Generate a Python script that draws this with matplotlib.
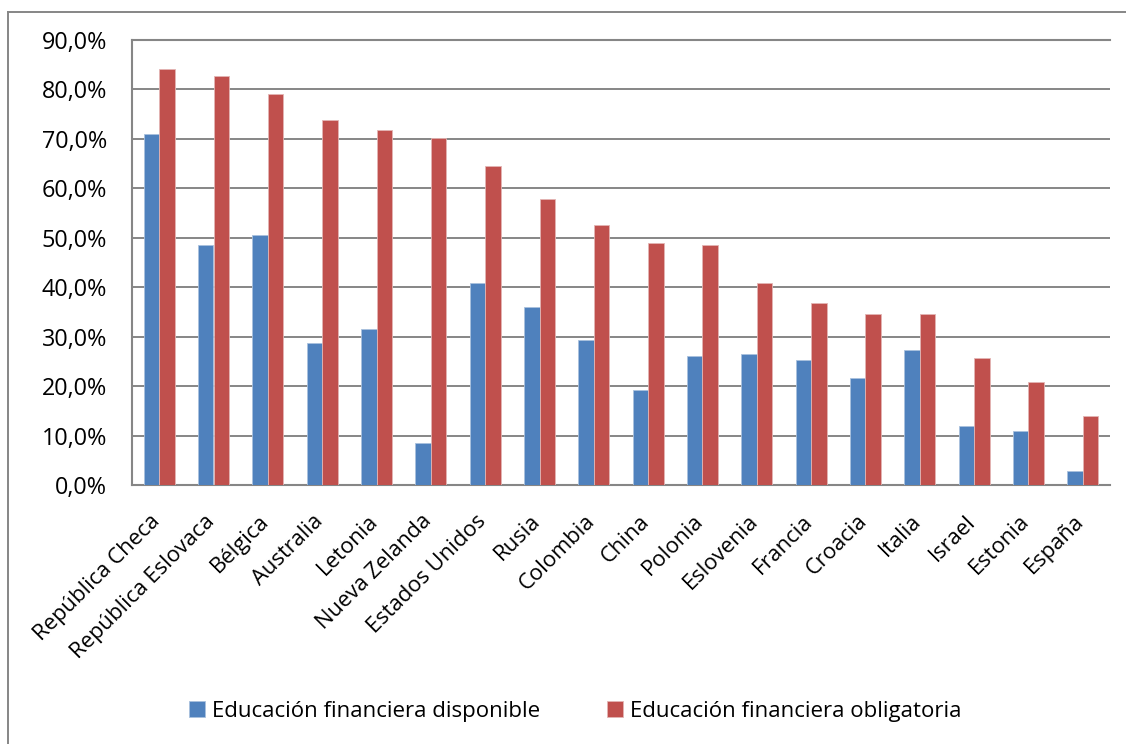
import numpy as np
import matplotlib
matplotlib.use("Agg")
import matplotlib.pyplot as plt
import matplotlib.transforms as mtransforms
from matplotlib.lines import Line2D

# ── data ─────────────────────────────────────────────────────────────────────

paises = [
    "República Checa", "República Eslovaca", "Bélgica", "Australia",
    "Letonia", "Nueva Zelanda", "Estados Unidos", "Rusia", "Colombia",
    "China", "Polonia", "Eslovenia", "Francia", "Croacia", "Italia",
    "Israel", "Estonia", "España",
]
disponible = [71.0, 48.5, 50.5, 28.8, 31.6, 8.4, 40.9, 36.1, 29.3,
              19.2, 26.0, 26.5, 25.2, 21.7, 27.3, 12.0, 10.9, 2.8]
obligatoria = [84.2, 82.7, 79.0, 73.8, 71.7, 70.2, 64.6, 57.8, 52.6,
               48.9, 48.5, 40.9, 36.9, 34.5, 34.5, 25.6, 20.8, 14.0]
yticks = np.arange(0, 91, 10)

series_labels = ["Educación financiera disponible",
                 "Educación financiera obligatoria"]

# ── style ────────────────────────────────────────────────────────────────────

AZUL = "#4F81BD"
ROJO = "#C0504D"
GRIS = "#868686"
plt.rcParams["font.family"] = ["Open Sans", "DejaVu Sans"]
FS = 15.8

W, H = 1126, 744
fig = plt.figure(figsize=(W / 100, H / 100), dpi=100)
ax = fig.add_axes([132 / W, 1 - 485 / H, (1110 - 132) / W, (485 - 40) / H])

x = np.arange(len(paises))
bw = 0.285
ax.bar(x - bw / 2, disponible, bw, color=AZUL, edgecolor="#a9c1de",
       linewidth=0.6, label=series_labels[0], zorder=3)
ax.bar(x + bw / 2, obligatoria, bw, color=ROJO, edgecolor="#e3b5b4",
       linewidth=0.6, label=series_labels[1], zorder=3)

ax.set_xlim(-0.5, len(paises) - 0.5)
ax.set_ylim(0, 90)
ax.set_yticks(yticks)
ax.set_yticklabels([f"{v:.1f}%".replace(".", ",") for v in yticks])
ax.yaxis.grid(True, color=GRIS, linewidth=1.4)
ax.set_axisbelow(True)

ax.spines["right"].set_visible(False)
for s in ["left", "bottom", "top"]:
    ax.spines[s].set_color(GRIS)
    ax.spines[s].set_linewidth(1.5)

ax.tick_params(axis="y", length=0, pad=18, labelsize=16.8, colors="black")
ax.tick_params(axis="x", length=0, pad=24, labelsize=FS, colors="black")
ax.set_xticks(x)
ax.set_xticklabels(paises, rotation=45, ha="right", va="center",
                   rotation_mode="anchor")
shift = mtransforms.ScaledTranslation(-2 / 100, 0, fig.dpi_scale_trans)
for lbl in ax.get_xticklabels():
    lbl.set_transform(lbl.get_transform() + shift)

# legend at the bottom
fig.legend(loc="center", bbox_to_anchor=(575.5 / W, 1 - 711 / H), ncol=2,
           frameon=False, fontsize=16, handlelength=0.72, handleheight=0.72,
           handletextpad=0.33, columnspacing=3.0)

# outer chart border (only left and top are inside the picture)
fig.add_artist(Line2D([8 / W, 8 / W], [0, 1 - 12 / H],
                      transform=fig.transFigure, color=GRIS, lw=1.4))
fig.add_artist(Line2D([8 / W, 1], [1 - 12 / H, 1 - 12 / H],
                      transform=fig.transFigure, color=GRIS, lw=1.4))

fig.savefig("out.png", dpi=100, facecolor="white")
